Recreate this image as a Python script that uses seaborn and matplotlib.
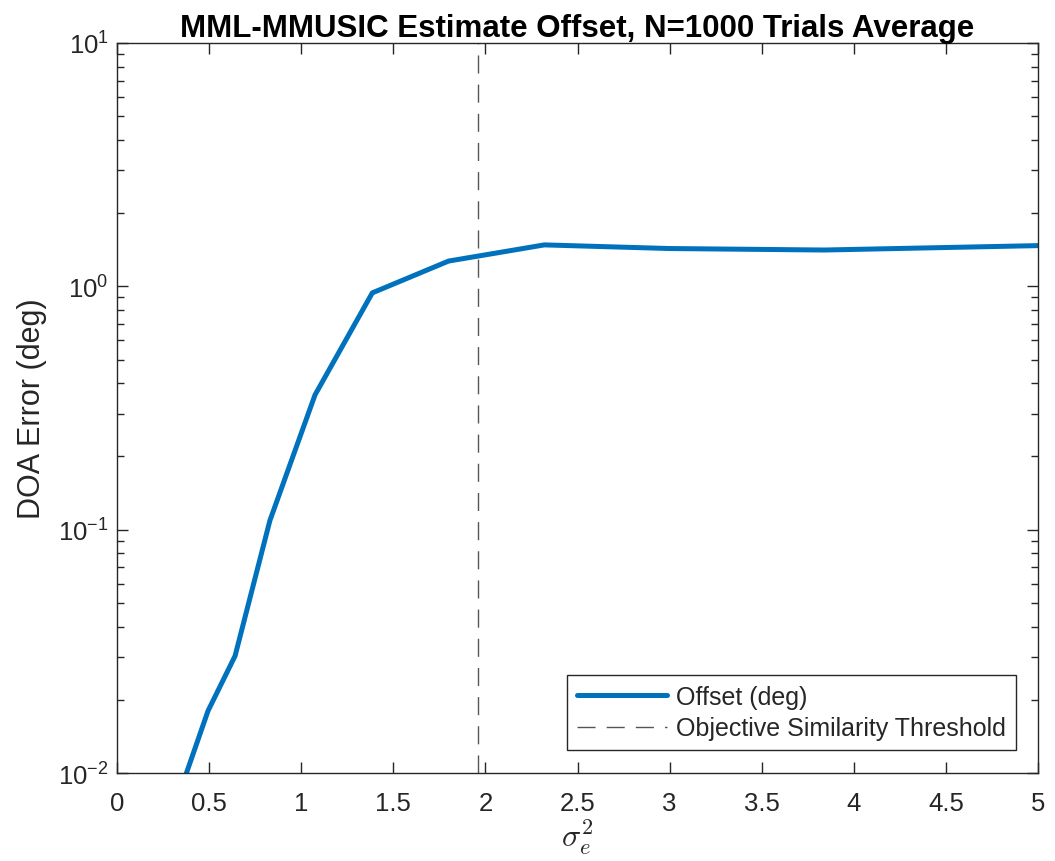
import numpy as np
import pandas as pd
import matplotlib
matplotlib.use("Agg")
import matplotlib.pyplot as plt
import seaborn as sns
from matplotlib.ticker import LogLocator, LogFormatterSciNotation, NullFormatter

# Noise variance values and average DOA offset (deg)
sigma_e2 = [0.377, 0.494, 0.641, 0.83, 1.075, 1.386, 1.80, 2.32, 3.0, 3.84, 5.0]
offset_deg = [0.0100, 0.0180, 0.0303, 0.109, 0.358, 0.94, 1.27, 1.48, 1.43, 1.41, 1.47]
threshold = 1.96
x_ticks = [0, 0.5, 1, 1.5, 2, 2.5, 3, 3.5, 4, 4.5, 5]
x_tick_labels = ["0", "0.5", "1", "1.5", "2", "2.5", "3", "3.5", "4", "4.5", "5"]

sns.set_style("ticks")
plt.rcParams["font.family"] = ["Liberation Sans", "DejaVu Sans"]
plt.rcParams["mathtext.fontset"] = "custom"
plt.rcParams["mathtext.rm"] = "Liberation Sans"
plt.rcParams["mathtext.it"] = "Liberation Sans:italic"

fg = "#262626"
df = pd.DataFrame({"sigma": sigma_e2, "offset": offset_deg})

fig = plt.figure(figsize=(10.55, 8.62), dpi=100)
ax = fig.add_axes([0.1109, 0.102, 0.873, 0.847])

sns.lineplot(data=df, x="sigma", y="offset", ax=ax, color="#0072BD",
             linewidth=3.6, label="Offset (deg)")
ax.axvline(threshold, color="#555555", linewidth=1.0, dashes=(13, 8),
           label="Objective Similarity Threshold")

ax.set_yscale("log")
ax.set_xlim(0, 5)
ax.set_ylim(1e-2, 1e1)
ax.set_xticks(x_ticks)
ax.set_xticklabels(x_tick_labels)
ax.yaxis.set_major_locator(LogLocator(base=10, numticks=10))
ax.yaxis.set_major_formatter(LogFormatterSciNotation())
ax.yaxis.set_minor_locator(LogLocator(base=10, subs=np.arange(2, 10), numticks=20))
ax.yaxis.set_minor_formatter(NullFormatter())

ax.tick_params(axis="both", which="both", direction="in", top=True, right=True,
               colors=fg, labelcolor=fg, labelsize=18.5, width=1.0)
ax.tick_params(axis="both", which="major", length=8)
ax.tick_params(axis="x", which="major", pad=13)
ax.tick_params(axis="y", which="major", pad=6)
ax.tick_params(axis="y", which="minor", length=5)
for s in ax.spines.values():
    s.set_color(fg)
    s.set_linewidth(1.0)
    s.set_visible(True)

ax.set_title("MML-MMUSIC Estimate Offset, N=1000 Trials Average",
             fontsize=22.5, fontweight="bold", color="black", pad=4)
ax.set_ylabel("DOA Error (deg)", fontsize=22, color=fg, labelpad=8)
xl = ax.set_xlabel(r"$\sigma_e^2$", fontsize=23, color=fg, labelpad=1)
xl.set_math_fontfamily("cm")

leg = ax.legend(loc="lower right", fontsize=18, frameon=True, fancybox=False,
                edgecolor=fg, framealpha=1, handlelength=3.6, handletextpad=0.35,
                borderpad=0.4, labelspacing=0.3, borderaxespad=0,
                bbox_to_anchor=(0.976, 0.031))
leg.get_frame().set_linewidth(1.0)

fig.savefig("out.png", dpi=100, facecolor="white")
